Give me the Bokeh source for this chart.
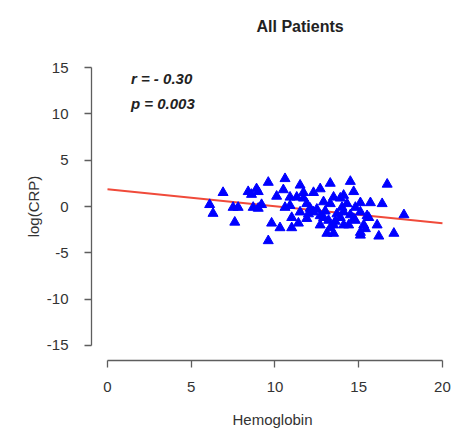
from bokeh.plotting import figure
from bokeh.models import Range1d, FixedTicker
from bokeh.embed import file_html
from bokeh.resources import INLINE
from bokeh.core.properties import value

title_text = "All Patients"
x_label = "Hemoglobin"
y_label = "log(CRP)"
x_ticks = [0, 5, 10, 15, 20]
y_ticks = [-15, -10, -5, 0, 5, 10, 15]
stats_r = "r = - 0.30"
stats_p = "p = 0.003"

hemoglobin = [6.1, 6.3, 6.9, 7.5, 7.8, 7.6, 8.4, 8.6, 8.9, 9.0, 8.7, 9.0, 9.2, 9.6, 9.8, 9.6,
              10.1, 10.6, 10.5, 10.6, 10.9, 11.5, 11.3, 11.0, 11.0, 11.4, 11.7, 13.3, 14.5, 16.7,
              14.7, 12.7, 12.3, 13.5, 14.1, 13.9, 15.1, 15.7, 16.4, 17.7, 15.5, 16.1, 16.2, 17.1,
              15.1, 15.3, 13.5, 13.3, 12.7, 12.1, 14.1, 14.7, 14.1, 11.7, 11.9, 10.9, 11.9, 13.3,
              11.5, 12.3, 12.9, 13.7, 12.7, 13.5, 13.1, 10.3, 14.0, 14.8, 15.1, 15.6, 13.9, 14.8,
              15.4, 15.1, 14.4, 12.9, 13.0, 12.5, 13.2, 14.3, 12.0, 13.6, 14.5]
log_crp = [0.2, -0.75, 1.5, -0.1, -0.1, -1.7, 1.6, 1.3, 1.9, 1.6, -0.1, -0.2, 0.2, 2.6, -1.8, -3.7,
           1.1, 3.0, 1.8, -0.1, 1.0, 2.3, 1.0, -1.2, -2.3, -1.8, 1.5, 2.5, 2.7, 2.4,
           1.6, 1.9, 1.5, 1.0, 1.2, 0.9, 0.4, 0.4, 0.3, -0.9, -1.0, -2.0, -3.2, -2.9,
           -3.1, -2.0, -2.9, -2.3, -1.0, -0.2, -0.6, -1.3, -2.0, 0.9, -1.3, 0.1, 0.3, 0.3,
           -0.6, -0.6, -1.2, -0.8, -2.0, -2.0, -2.9, -2.3, -0.1, -0.1, -0.6, -1.2, -1.2, -1.5,
           -2.4, -2.8, -2.0, 0.5, -0.5, -0.3, -1.5, 0.3, -0.8, -1.6, -0.9]
fit_x = [0, 20]
fit_y = [1.85, -1.8]

FONT = "Liberation Sans"

p = figure(width=453, height=431, output_backend="svg", toolbar_location=None,
           x_range=Range1d(-0.955, 20.66), y_range=Range1d(-16.62, 16.62),
           min_border_left=91, min_border_right=0, min_border_top=52, min_border_bottom=71,
           background_fill_color="white", border_fill_color="white")
p.outline_line_color = None
p.xgrid.grid_line_color = None
p.ygrid.grid_line_color = None

p.title.text = title_text
p.title.align = "left"
p.title.offset = 165
p.title.vertical_align = "top"
p.title.text_font = FONT
p.title.text_font_size = "16px"
p.title.text_font_style = "bold"
p.title.text_color = "#222222"
p.title.standoff = 32

for ax, ticks in ((p.xaxis, x_ticks), (p.yaxis, y_ticks)):
    ax.ticker = FixedTicker(ticks=ticks)
    ax.major_label_overrides = {t: str(t) for t in ticks}
    ax.bounds = (ticks[0], ticks[-1])
    ax.minor_tick_line_color = None
    ax.major_tick_in = 0
    ax.major_tick_out = 7
    ax.axis_line_color = "#5e5e5e"
    ax.major_tick_line_color = "#5e5e5e"
    ax.axis_line_width = 1.3
    ax.major_tick_line_width = 1.3
    ax.major_label_text_font = FONT
    ax.major_label_text_font_size = "15px"
    ax.major_label_text_color = "#333333"
    ax.axis_label_text_font = FONT
    ax.axis_label_text_font_size = "15px"
    ax.axis_label_text_font_style = "normal"
    ax.axis_label_text_color = "#333333"

p.xaxis.axis_label = x_label
p.yaxis.axis_label = y_label
p.xaxis.major_label_standoff = 14
p.yaxis.major_label_standoff = 16
p.xaxis.axis_label_standoff = 16
p.yaxis.axis_label_standoff = 2

p.line(fit_x, fit_y, line_color="#F04A3A", line_width=2)
p.scatter(hemoglobin, log_crp, marker="triangle", size=10,
          fill_color="#0000FF", line_color="#0000FF")

for txt, yy in ((stats_r, 13.8), (stats_p, 11.1)):
    p.text(x=[1.4], y=[yy], text=[txt], text_font=value(FONT), text_font_size="15px",
           text_font_style="bold italic", text_color="#222222", text_baseline="middle")

open("out.html", "w").write(file_html(p, INLINE))
